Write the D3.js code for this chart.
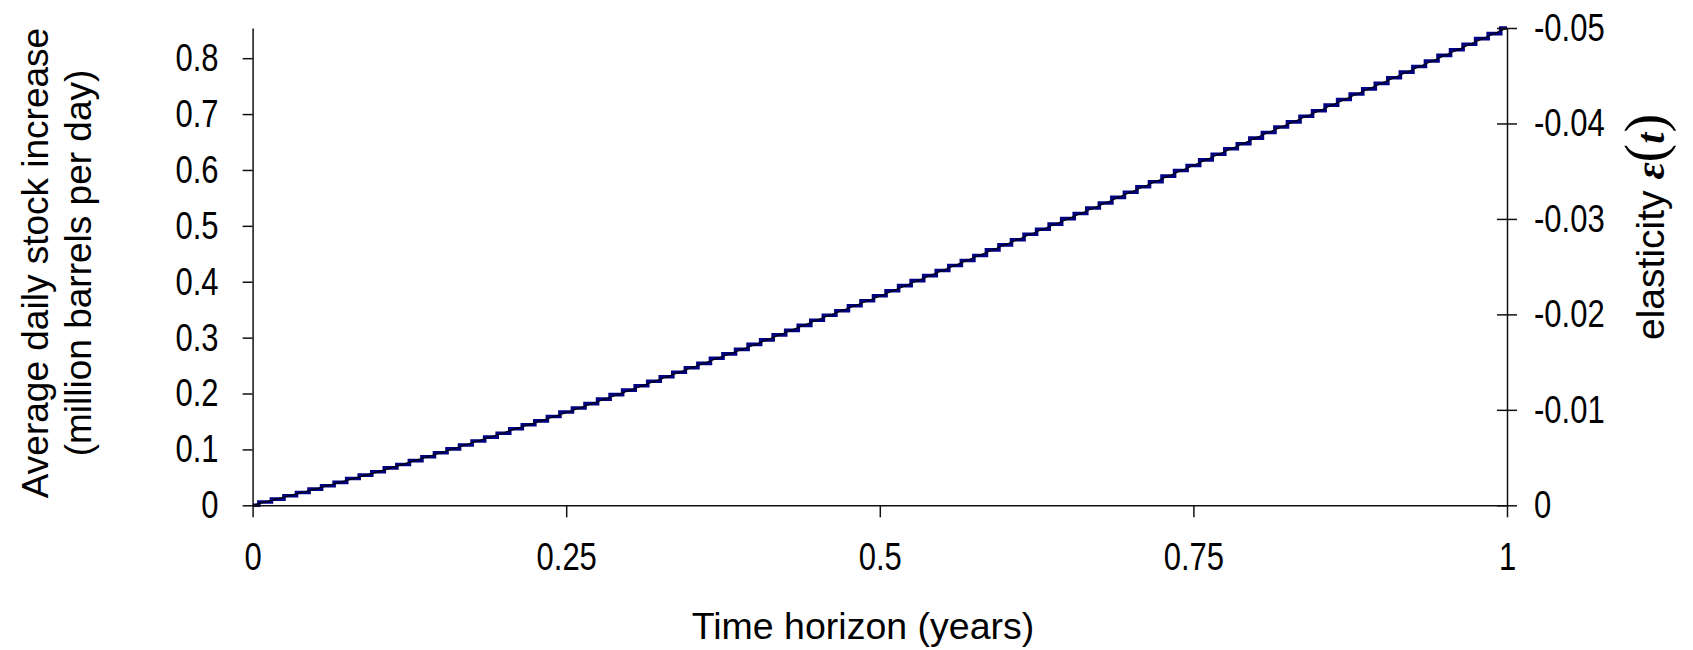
<!DOCTYPE html>
<html>
<head>
<meta charset="utf-8">
<script src="https://cdn.jsdelivr.net/npm/d3@7"></script>
<style>
  body { margin: 0; background: #fff; }
  svg { display: block; font-family: "Liberation Sans", Arial, sans-serif; }
  .axis path, .axis line { stroke: #111; stroke-width: 1.5px; }
  .axis text { font-size: 31px; fill: #000; font-family: "Liberation Sans", Arial, sans-serif; }
</style>
</head>
<body>
<div id="chart"></div>
<script>
// tick labels
const xTicks = [0, 0.25, 0.5, 0.75, 1];
const leftTicks = [0, 0.1, 0.2, 0.3, 0.4, 0.5, 0.6, 0.7, 0.8];
const rightTicks = [0, -0.01, -0.02, -0.03, -0.04, -0.05];

// average daily stock increase (million barrels per day), read every 0.01 year
const stockIncrease = [
  0, 0.006, 0.011, 0.017, 0.023, 0.029, 0.035, 0.041, 0.048, 0.054,
  0.060, 0.067, 0.073, 0.080, 0.087, 0.094, 0.101, 0.108, 0.115, 0.122,
  0.129, 0.137, 0.144, 0.151, 0.159, 0.167, 0.174, 0.182, 0.190, 0.198,
  0.206, 0.214, 0.222, 0.230, 0.238, 0.246, 0.254, 0.263, 0.271, 0.279,
  0.288, 0.296, 0.305, 0.313, 0.322, 0.331, 0.340, 0.348, 0.357, 0.366,
  0.375, 0.384, 0.393, 0.402, 0.411, 0.420, 0.429, 0.438, 0.447, 0.457,
  0.466, 0.475, 0.485, 0.494, 0.503, 0.513, 0.522, 0.532, 0.541, 0.551,
  0.560, 0.570, 0.579, 0.589, 0.599, 0.608, 0.618, 0.628, 0.638, 0.647,
  0.657, 0.667, 0.677, 0.686, 0.696, 0.706, 0.716, 0.726, 0.736, 0.745,
  0.755, 0.765, 0.775, 0.785, 0.795, 0.805, 0.815, 0.825, 0.835, 0.844,
  0.854
];

// elasticity e(t), read every 0.05 year
const elasticity = [
  0, -0.0017, -0.0035, -0.0055, -0.0076, -0.0097, -0.0120, -0.0144, -0.0168, -0.0194,
  -0.0219, -0.0246, -0.0273, -0.0300, -0.0328, -0.0356, -0.0385, -0.0413, -0.0442, -0.0471,
  -0.0500
];

const width = 1693, height = 650;
const margin = { left: 252.6, right: 1507, top: 28, bottom: 505.3 };
const stretch = 1.25; // tick labels in the original are drawn a bit taller than wide

const svg = d3.select('#chart').append('svg')
  .attr('width', width)
  .attr('height', height);

const x = d3.scaleLinear().domain([0, 1]).range([margin.left, margin.right]);
const yLeft = d3.scaleLinear().domain([0, 0.854]).range([margin.bottom, margin.top]);
const yRight = d3.scaleLinear().domain([0, -0.05]).range([margin.bottom, margin.top]);

// step line (blue)
const stepLine = d3.line()
  .x((d, i) => x(i / (stockIncrease.length - 1)))
  .y(d => yLeft(d))
  .curve(d3.curveStep);

svg.append('path')
  .datum(stockIncrease)
  .attr('fill', 'none')
  .attr('stroke', '#000080')
  .attr('stroke-width', 3.6)
  .attr('d', stepLine);

// elasticity line (thin black)
const elasLine = d3.line()
  .x((d, i) => x(i / (elasticity.length - 1)))
  .y(d => yRight(d));

svg.append('path')
  .datum(elasticity)
  .attr('fill', 'none')
  .attr('stroke', '#000')
  .attr('stroke-width', 1.1)
  .attr('d', elasLine);

// axes
const xAxis = svg.append('g')
  .attr('class', 'axis')
  .attr('transform', `translate(0,${margin.bottom})`)
  .call(d3.axisBottom(x).tickValues(xTicks).tickFormat(d => String(d))
    .tickSizeInner(12).tickSizeOuter(0).tickPadding(26));
xAxis.selectAll('.tick text')
  .attr('y', 0).attr('dy', '0.35em')
  .attr('transform', `translate(0,51) scale(1,${stretch})`);

const lAxis = svg.append('g')
  .attr('class', 'axis')
  .attr('transform', `translate(${margin.left},0)`)
  .call(d3.axisLeft(yLeft).tickValues(leftTicks).tickFormat(d => String(d))
    .tickSizeInner(10).tickSizeOuter(0).tickPadding(24));
lAxis.selectAll('.tick text').attr('transform', `scale(1,${stretch})`);

const rAxis = svg.append('g')
  .attr('class', 'axis')
  .attr('transform', `translate(${margin.right},0)`)
  .call(d3.axisRight(yRight).tickValues(rightTicks).tickFormat(d => String(d))
    .tickSizeInner(10).tickSizeOuter(0).tickPadding(17));
rAxis.selectAll('.tick line').attr('x1', -10);
rAxis.selectAll('.tick text').attr('transform', `scale(1,${stretch})`);

// axis titles
const yTitle = svg.append('text')
  .attr('transform', 'translate(57,263) rotate(-90)')
  .attr('text-anchor', 'middle')
  .style('font-size', '37px');
yTitle.append('tspan').attr('x', 0).attr('dy', '-0.25em').text('Average daily  stock increase');
yTitle.append('tspan').attr('x', 0).attr('dy', '1.18em').text('(million barrels per day)');

svg.append('text')
  .attr('x', 863)
  .attr('y', 639)
  .attr('text-anchor', 'middle')
  .style('font-size', '37.5px')
  .text('Time horizon (years)');

const rTitle = svg.append('text')
  .attr('transform', 'translate(1664,340) rotate(-90)')
  .attr('text-anchor', 'start')
  .style('font-size', '39px');
rTitle.append('tspan').text('elasticity ');
rTitle.append('tspan')
  .style('font-family', '"Liberation Serif", "Times New Roman", serif')
  .style('font-weight', 'bold').style('font-style', 'italic')
  .style('font-size', '42px').text('ε');
rTitle.append('tspan')
  .style('font-family', '"Liberation Serif", "Times New Roman", serif')
  .style('font-size', '56px').text('(');
rTitle.append('tspan')
  .style('font-family', '"Liberation Serif", "Times New Roman", serif')
  .style('font-weight', 'bold').style('font-style', 'italic')
  .style('font-size', '40px').text('t');
rTitle.append('tspan')
  .style('font-family', '"Liberation Serif", "Times New Roman", serif')
  .style('font-size', '56px').text(')');
</script>
</body>
</html>
